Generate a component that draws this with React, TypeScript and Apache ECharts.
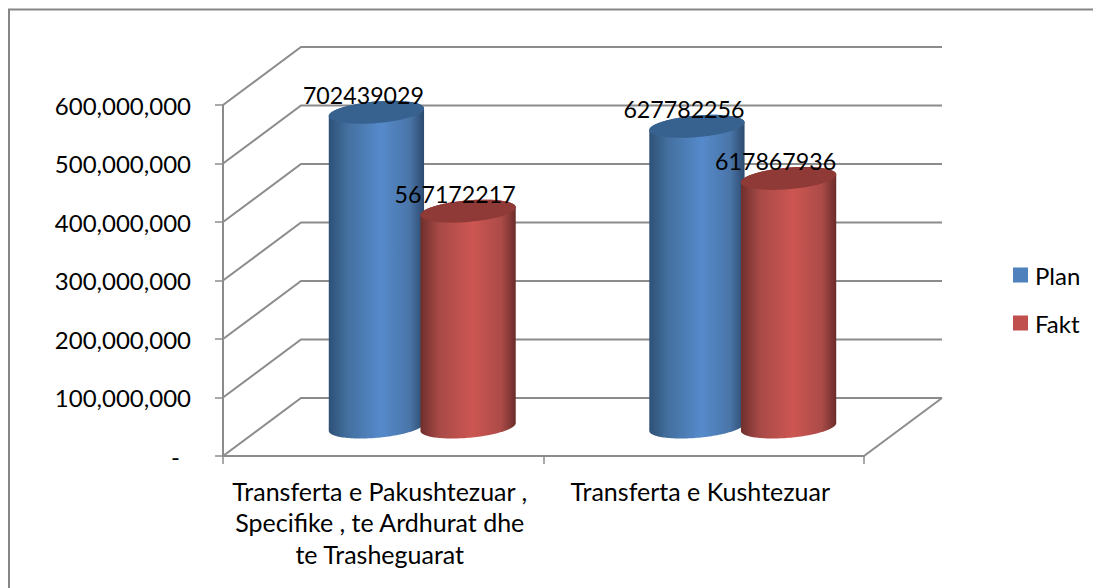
import React, { useEffect, useRef } from "react";
import * as echarts from "echarts";

const categories = [
  "Transferta e Pakushtezuar ,\nSpecifike , te Ardhurat dhe\nte Trasheguarat",
  "Transferta e Kushtezuar",
];
const seriesNames = ["Plan", "Fakt"];
// Heights as drawn against the axis (the printed labels do not follow the axis in the source).
const planHeights = [538000000, 514000000];
const faktHeights = [369000000, 425000000];
const planLabels = ["702439029", "627782256"];
const faktLabels = ["567172217", "617867936"];
const yTicks = [0, 100000000, 200000000, 300000000, 400000000, 500000000, 600000000];

const FONT = "Lato";
const DEPTH_X = 78;
const DEPTH_Y = -58;
const GRID_COLOR = "#8c8c8c";

function ellipsePoints(cx: number, cy: number, a: number, b: number, c: number, from = 0, to = Math.PI * 2) {
  const pts: number[][] = [];
  const n = 72;
  for (let i = 0; i <= n; i++) {
    const t = from + ((to - from) * i) / n;
    pts.push([cx + a * Math.cos(t) + b * Math.sin(t), cy - c * Math.sin(t)]);
  }
  return pts;
}

function cylinderSeries(name: string, heights: number[], labels: string[], side: number, color: string, stops: string[], top: string) {
  return {
    type: "custom",
    name,
    itemStyle: { color },
    data: heights.map((v, i) => [i, v]),
    encode: { x: 0, y: 1 },
    renderItem: (_p: any, api: any) => {
      const idx = api.value(0);
      const val = api.value(1);
      const band = api.size([1, 0])[0];
      const t = api.coord([idx, val]);
      const b = api.coord([idx, 0]);
      const cx = t[0] + DEPTH_X / 2 + side * band * 0.143;
      const topY = t[1] + DEPTH_Y / 2;
      const baseY = b[1] + DEPTH_Y / 2;
      const a = band * 0.14;
      const sk = band * 0.05;
      const c = 11.5;
      const tExt = Math.atan2(sk, a);
      const bottomArc = ellipsePoints(cx, baseY, a, sk, c, tExt + Math.PI, tExt + Math.PI * 2);
      const topArc = ellipsePoints(cx, topY, a, sk, c, tExt, tExt + Math.PI);
      const body = [...bottomArc, ...topArc];
      return {
        type: "group",
        children: [
          {
            type: "polygon",
            shape: { points: body },
            style: {
              fill: new echarts.graphic.LinearGradient(0, 0, 1, 0, [
                { offset: 0, color: stops[0] },
                { offset: 0.2, color: stops[1] },
                { offset: 0.55, color: stops[2] },
                { offset: 0.85, color: stops[3] },
                { offset: 1, color: stops[4] },
              ]),
            },
          },
          {
            type: "polygon",
            shape: { points: ellipsePoints(cx, topY, a, sk, c) },
            style: { fill: top },
          },
          {
            type: "text",
            x: cx - 13,
            y: topY - 17,
            style: {
              text: labels[idx],
              fill: "#000",
              font: `23.2px ${FONT}`,
              textAlign: "center",
              textVerticalAlign: "middle",
            },
          },
        ],
      };
    },
  };
}

export default function App() {
  const ref = useRef<HTMLDivElement>(null);
  useEffect(() => {
    document.body.style.margin = "0";
    const chart = echarts.init(ref.current!, null, { renderer: "svg" });
    chart.setOption({
      animation: false,
      backgroundColor: "#fff",
      textStyle: { fontFamily: FONT },
      graphic: [
        {
          type: "rect",
          shape: { x: 9, y: 9.5, width: 1200, height: 800 },
          style: { fill: "none", stroke: "#868686", lineWidth: 2 },
          silent: true,
        },
      ],
      grid: { left: 223, right: 229, top: 105, bottom: 132, containLabel: false },
      legend: {
        data: seriesNames,
        orient: "vertical",
        left: 1008,
        top: 258,
        itemWidth: 15,
        itemHeight: 15,
        itemGap: 24,
        icon: "rect",
        textStyle: { fontSize: 24, fontFamily: FONT, color: "#000", padding: [0, 0, 0, 2] },
      },
      xAxis: {
        type: "category",
        data: categories,
        axisLine: { lineStyle: { color: GRID_COLOR, width: 2 } },
        axisTick: { show: true, length: 8, lineStyle: { color: GRID_COLOR, width: 1.5 } },
        axisLabel: { color: "#000", fontSize: 25, fontFamily: FONT, margin: 19, lineHeight: 31.5, interval: 0, padding: [0, 7, 0, 0] },
      },
      yAxis: {
        type: "value",
        min: 0,
        max: 600000000,
        interval: 100000000,
        splitLine: { show: false },
        axisLine: { show: true, lineStyle: { color: GRID_COLOR, width: 2 } },
        axisTick: { show: true, length: 8, lineStyle: { color: GRID_COLOR, width: 1.5 } },
        axisLabel: {
          color: "#000",
          fontSize: 24,
          fontFamily: FONT,
          margin: 32,
          formatter: (v: number) => (v === 0 ? "{d|-}" : v.toLocaleString("en-US")),
          rich: { d: { fontSize: 24, fontFamily: FONT, color: "#000", padding: [0, 11, 0, 0] } },
        },
      },
      series: [
        {
          type: "custom",
          name: "walls",
          silent: true,
          data: yTicks.map((v) => [0, v]),
          encode: { x: 0, y: 1 },
          renderItem: (_p: any, api: any) => {
            const band = api.size([1, 0])[0];
            const p = api.coord([0, api.value(1)]);
            const x0 = p[0] - band / 2;
            const y0 = p[1];
            const x1 = x0 + DEPTH_X;
            const y1 = y0 + DEPTH_Y;
            const x2 = x1 + band * 2;
            const lineStyle = { stroke: GRID_COLOR, lineWidth: 2, fill: "none" };
            const children: any[] = [
              { type: "polyline", shape: { points: [[x0, y0], [x1, y1], [x2, y1]] }, style: lineStyle },
            ];
            if (api.value(1) === 0) {
              children.push({
                type: "line",
                shape: { x1: x0 + band * 2, y1: y0, x2, y2: y1 },
                style: lineStyle,
              });
            }
            return { type: "group", children };
          },
        },
        cylinderSeries("Plan", planHeights, planLabels, -1, "#4F81BD", ["#2e5177", "#44709f", "#558ACB", "#4a75a8", "#2c4a6e"], "#37618f"),
        cylinderSeries("Fakt", faktHeights, faktLabels, 1, "#C0504D", ["#6f2f2c", "#a84a47", "#CD5652", "#ab4b48", "#6b2c29"], "#8f3a37"),
      ],
    });
    return () => chart.dispose();
  }, []);
  return <div ref={ref} style={{ width: 1093, height: 588 }} />;
}
